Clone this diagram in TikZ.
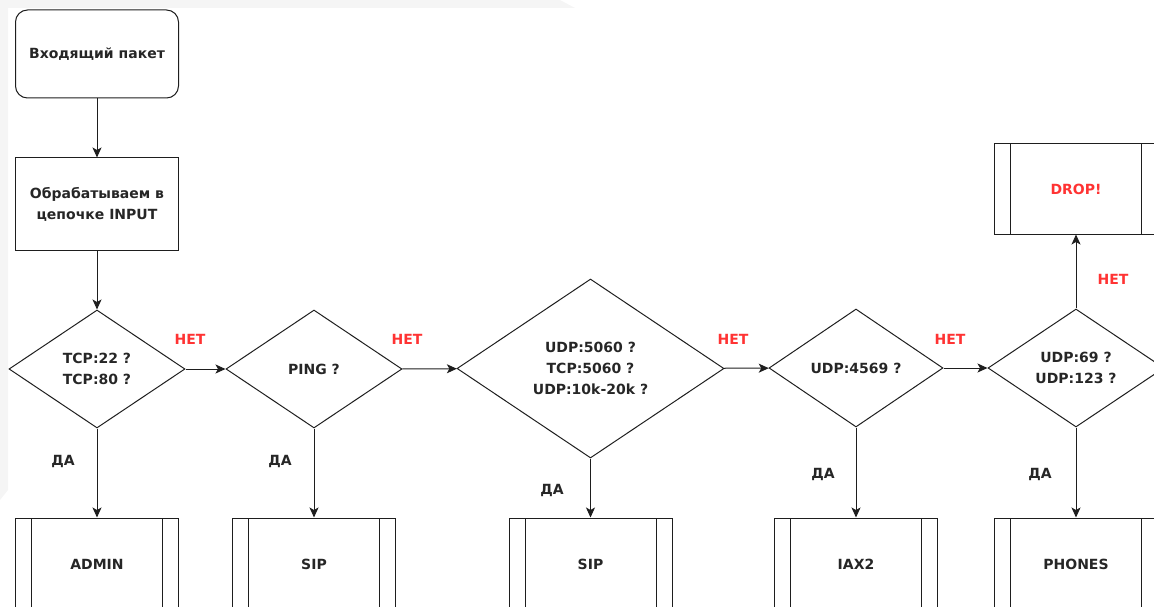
\documentclass[tikz,border=0pt]{standalone}
\usepackage{fontspec}
\setmainfont{DejaVu Sans}
\usetikzlibrary{shapes.geometric,arrows.meta,calc}
\definecolor{netred}{RGB}{255,51,51}
\definecolor{linegray}{RGB}{30,30,30}
\definecolor{bggray}{RGB}{245,245,245}
\tikzset{
  every node/.style={font=\bfseries\fontsize{14}{21}\selectfont, text=black!85},
  startbox/.style={draw=linegray, line width=1pt, rounded corners=12pt, minimum width=163pt, minimum height=88pt, inner sep=0pt, align=center},
  procbox/.style={draw=linegray, line width=1pt, minimum width=163pt, minimum height=92pt, inner sep=0pt, align=center},
  subbox/.style={draw=linegray, line width=1pt, minimum width=163pt, minimum height=92pt, inner sep=0pt, align=center,
    path picture={\draw[linegray, line width=1pt]
      ([xshift=16pt]path picture bounding box.north west) -- ([xshift=16pt]path picture bounding box.south west)
      ([xshift=-16pt]path picture bounding box.north east) -- ([xshift=-16pt]path picture bounding box.south east);}},
  decision/.style={draw=linegray, line width=1pt, diamond, aspect=1.5, inner sep=0pt, align=center},
  conn/.style={draw=linegray, line width=1pt, -{Stealth[length=10pt,width=9pt,inset=2.5pt]}},
  nolbl/.style={text=netred, font=\bfseries\fontsize{14}{16}\selectfont},
  yeslbl/.style={font=\bfseries\fontsize{14}{16}\selectfont},
}
\begin{document}
\begin{tikzpicture}[x=1pt,y=-1pt]
\useasboundingbox (0,0) rectangle (1154,607);
\clip (0,0) rectangle (1154,607);
\fill[bggray] (0,0) -- (560,0) -- (575,8) -- (8,8) -- (8,490) -- (0,500) -- cycle;

\node[startbox] (start) at (97,54) {Входящий пакет};
\node[procbox] (input) at (97,204) {Обрабатываем в\\цепочке INPUT};

\node[decision, minimum width=176pt, minimum height=118pt] (d1) at (97,369) {TCP:22 ?\\TCP:80 ?};
\node[decision, minimum width=176pt, minimum height=118pt] (d2) at (314,369) {PING ?};
\node[decision, minimum width=267pt, minimum height=179pt] (d3) at (590.5,368.5) {UDP:5060 ?\\TCP:5060 ?\\UDP:10k-20k ?};
\node[decision, minimum width=174pt, minimum height=118pt] (d4) at (856,368) {UDP:4569 ?};
\node[decision, minimum width=176pt, minimum height=118pt] (d5) at (1076,368) {UDP:69 ?\\UDP:123 ?};

\node[subbox] (admin) at (97,564) {ADMIN};
\node[subbox] (sip1) at (314,564) {SIP};
\node[subbox] (sip2) at (590.5,564) {SIP};
\node[subbox] (iax) at (856,564) {IAX2};
\node[subbox] (phones) at (1076,564) {PHONES};
\node[subbox, minimum height=90pt] (drop) at (1076,189) {\textcolor{netred}{DROP!}};

\draw[conn] (start) -- (input);
\draw[conn] (input) -- (d1);
\draw[conn] (d1) -- (d2);
\draw[conn] (d2) -- (d3);
\draw[conn] (d3) -- (d4);
\draw[conn] (d4) -- (d5);
\draw[conn] (d5) -- (drop);
\draw[conn] (d1) -- (admin);
\draw[conn] (d2) -- (sip1);
\draw[conn] (d3) -- (sip2);
\draw[conn] (d4) -- (iax);
\draw[conn] (d5) -- (phones);

\node[nolbl] (n1) at (190,339) {НЕТ};
\node[nolbl] (n2) at (407,339) {НЕТ};
\node[nolbl] (n3) at (733,339) {НЕТ};
\node[nolbl] (n4) at (950,339) {НЕТ};
\node[nolbl] (n5) at (1113,279) {НЕТ};

\node[yeslbl] (y1) at (63,461) {ДА};
\node[yeslbl] (y2) at (280,461) {ДА};
\node[yeslbl] (y3) at (552,490) {ДА};
\node[yeslbl] (y4) at (823,474) {ДА};
\node[yeslbl] (y5) at (1040,474) {ДА};
\end{tikzpicture}
\end{document}
